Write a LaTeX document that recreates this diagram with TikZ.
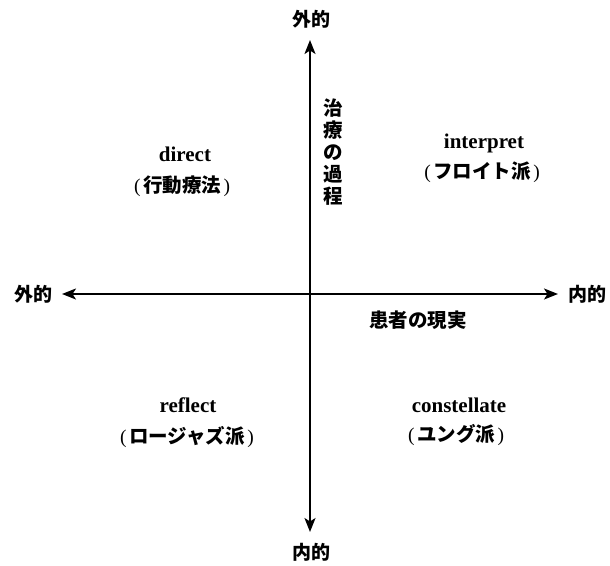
\documentclass[tikz,border=0pt]{standalone}
\usepackage{fontspec}
\setmainfont{Liberation Serif}
\newfontfamily\cjk{Noto Sans CJK JP}
\newcommand\myLP{{\rmfamily\mdseries(}\hspace{2.5pt}}
\newcommand\myRP{\hspace{2.5pt}{\rmfamily\mdseries)}}
\usetikzlibrary{arrows.meta}
\begin{document}
\begin{tikzpicture}[x=1pt,y=-1pt,
  lab/.style={font=\cjk\bfseries\fontsize{19}{22}\selectfont, inner sep=0pt},
  cj/.style={font=\cjk\bfseries\fontsize{19.5}{22}\selectfont, inner sep=0pt},
  en/.style={font=\bfseries\fontsize{21}{24}\selectfont, inner sep=0pt},
  axisline/.style={line width=1.6pt, {Stealth[length=14pt,width=11pt,inset=3.5pt]}-{Stealth[length=14pt,width=11pt,inset=3.5pt]}}]
\useasboundingbox (0,0) rectangle (610,565);
\node[lab] (top) at (311,19) {外的};
\node[lab] (bot) at (311,552) {内的};
\node[lab] (lft) at (33,294) {外的};
\node[lab] (rgt) at (587,294) {内的};
\coordinate (vt) at (310,40);
\coordinate (vb) at (310,532);
\coordinate (hl) at (62,294);
\coordinate (hr) at (558,294);
\draw[axisline] (vb) -- (vt);
\draw[axisline] (hl) -- (hr);
\node[cj, align=center] (proc) at (333,152) {治\\療\\の\\過\\程};
\node[cj] (pat) at (418,320) {患者の現実};
\node[en] (dir) at (185,154) {direct};
\node[cj] (dirj) at (182,186) {\myLP 行動療法\myRP};
\node[en] (int) at (484,143) {interpret};
\node[cj] (intj) at (482,172) {\myLP フロイト派\myRP};
\node[en] (ref) at (188,405) {reflect};
\node[cj] (refj) at (187,437) {\myLP ロージャズ派\myRP};
\node[en] (con) at (459,405) {constellate};
\node[cj] (conj) at (456,435) {\myLP ユング派\myRP};
\end{tikzpicture}
\end{document}
